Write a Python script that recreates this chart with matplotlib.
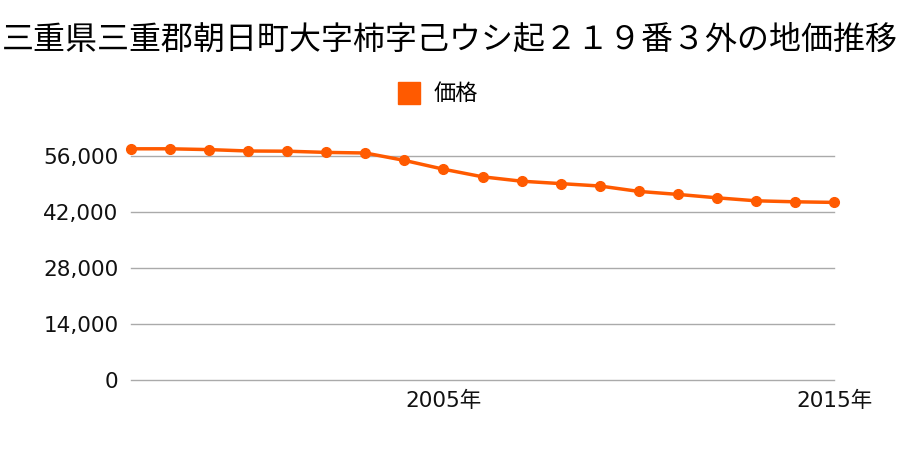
import matplotlib.pyplot as plt
from matplotlib.ticker import FuncFormatter

plt.rcParams['font.family'] = ['Noto Sans CJK JP', 'DejaVu Sans']

title = "三重県三重郡朝日町大字柿字己ウシ起２１９番３外の地価推移"
series_name = "価格"
years = list(range(1997, 2016))
prices = [57800, 57800, 57600, 57250, 57200, 56900, 56750, 54900, 52700, 50800,
          49700, 49100, 48500, 47150, 46400, 45550, 44800, 44550, 44400]
y_ticks = [0, 14000, 28000, 42000, 56000]
x_ticks = [2005, 2015]
x_labels = ["2005年", "2015年"]

color = "#ff5a00"

fig = plt.figure(figsize=(9, 4.5), dpi=100)
ax = fig.add_axes([131 / 900, 1 - 380 / 450, (834 - 131) / 900, 240 / 450])

ax.plot(years, prices, color=color, lw=2.5, marker='o', ms=7, clip_on=False, zorder=3)

ax.set_xlim(1997, 2015)
ax.set_ylim(0, 60000)
ax.set_yticks(y_ticks)
ax.yaxis.set_major_formatter(FuncFormatter(lambda v, p: f"{int(v):,}"))
ax.set_xticks(x_ticks)
ax.set_xticklabels(x_labels)
ax.grid(axis='y', color='#aaaaaa', lw=1)
for gl in ax.get_ygridlines():
    gl.set_clip_on(False)
ax.set_axisbelow(True)
for s in ax.spines.values():
    s.set_visible(False)
ax.tick_params(axis='both', length=0, labelsize=15.5, colors='#111111')
ax.tick_params(axis='y', pad=9)
ax.tick_params(axis='x', pad=8)
for lab in ax.get_xticklabels() + ax.get_yticklabels():
    lab.set_family(['DejaVu Sans', 'Noto Sans CJK JP'])

fig.text(0.5, 1 - 40 / 450, title, ha='center', va='center', fontsize=23)

# legend
fig.patches.append(plt.Rectangle((398 / 900, 1 - 104 / 450), 22 / 900, 22 / 450,
                                 transform=fig.transFigure, color=color))
fig.text(434 / 900, 1 - 93 / 450, series_name, ha='left', va='center', fontsize=16)

fig.savefig("out.png", dpi=100)
